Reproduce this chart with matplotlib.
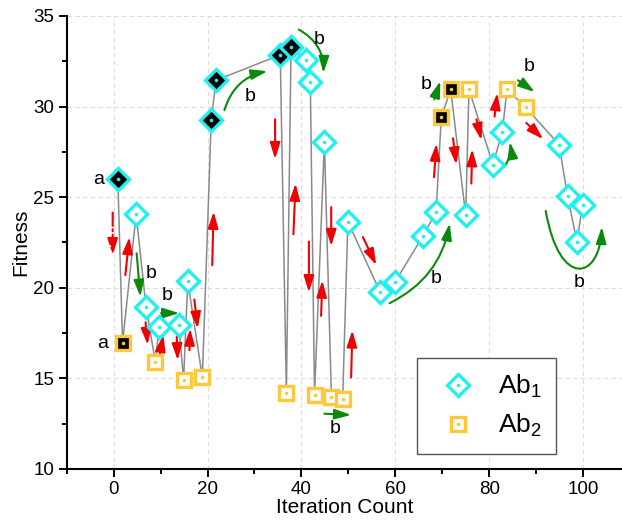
import numpy as np
import matplotlib
matplotlib.use("Agg")
import matplotlib.pyplot as plt
from matplotlib.patches import FancyArrowPatch
from matplotlib.lines import Line2D
from matplotlib.path import Path
from matplotlib.ticker import MultipleLocator

plt.rcParams['font.family'] = ['Liberation Sans', 'DejaVu Sans']
plt.rcParams['mathtext.fontset'] = 'custom'
plt.rcParams['mathtext.rm'] = 'Liberation Sans'
plt.rcParams['mathtext.it'] = 'Liberation Sans:italic'

# ---- data ----------------------------------------------------------------
ab1_iter = [0.9, 4.8, 6.9, 9.7, 13.9, 15.8, 20.8, 21.8, 35.5, 37.8, 40.9, 41.9,
            44.9, 49.9, 56.8, 59.9, 65.9, 68.7, 75.0, 80.8, 82.8, 94.9, 96.7,
            98.7, 99.9]
ab1_fit = [26.0, 24.05, 18.95, 17.85, 17.95, 20.35, 29.25, 31.45, 32.85, 33.3,
           32.55, 31.35, 28.05, 23.65, 19.75, 20.3, 22.85, 24.2, 24.0, 26.8,
           28.6, 27.9, 25.05, 22.55, 24.55]
ab1_elite = [1, 0, 0, 0, 0, 0, 1, 1, 1, 1, 0, 0, 0, 0, 0, 0, 0, 0, 0, 0, 0, 0,
             0, 0, 0]

ab2_iter = [1.9, 8.9, 14.9, 18.9, 36.8, 42.8, 46.4, 48.8, 69.8, 71.8, 75.7,
            83.8, 87.8]
ab2_fit = [16.95, 15.9, 14.9, 15.05, 14.2, 14.1, 13.95, 13.85, 29.4, 30.95,
           30.95, 30.95, 29.95]
ab2_elite = [1, 0, 0, 0, 0, 0, 0, 0, 1, 1, 0, 0, 0]

legend_labels = ['Ab$_1$', 'Ab$_2$']

# annotation arrows: (start, end)
red_arrows = [
    ((2.5, 20.7), (3.35, 22.8)), ((6.8, 18.1), (7.25, 16.85)),
    ((9.75, 16.2), (10.6, 17.4)), ((13.45, 17.3), (13.65, 16.0)),
    ((16.15, 16.55), (16.3, 17.75)), ((17.2, 19.35), (17.9, 17.75)),
    ((21.0, 21.25), (21.3, 24.2)), ((34.4, 29.3), (34.4, 27.1)),
    ((38.3, 22.95), (38.75, 25.75)), ((41.6, 22.55), (41.6, 19.75)),
    ((44.2, 18.45), (44.45, 20.4)), ((46.35, 24.45), (46.35, 22.3)),
    ((53.1, 22.8), (55.95, 21.25)), ((50.6, 15.05), (50.85, 17.65)),
    ((68.25, 26.1), (68.75, 27.95)), ((72.3, 28.25), (73.0, 26.8)),
    ((76.2, 25.75), (76.4, 27.65)), ((77.3, 29.3), (78.35, 28.15)),
    ((81.15, 29.45), (81.75, 30.75)), ((87.9, 29.1), (91.5, 28.2)),
]
red_dashdot_arrow = ((-0.2, 24.15), (-0.2, 21.8))

# green arrows: (start, end, curvature)
green_arrows = [
    ((4.9, 21.9), (5.7, 19.5), 0.0), ((10.1, 18.6), (14.0, 18.6), 0.0),
    ((23.6, 29.8), (32.8, 31.95), -0.3), ((39.45, 34.25), (44.7, 31.85), -0.3),
    ((44.9, 13.05), (50.6, 12.98), 0.0), ((58.8, 19.15), (71.6, 23.55), 0.25),
    ((68.3, 30.4), (69.6, 31.4), 0.0), ((83.3, 26.7), (84.4, 28.05), 0.2),
    ((86.15, 31.45), (89.7, 30.8), 0.0),
]
green_u_turn = [(92.05, 24.24), (95.0, 19.9), (103.55, 20.45), (104.0, 23.36)]

text_a = [(-3.3, 26.0), (-2.4, 16.95)]
text_b = [(8.0, 20.8), (11.5, 19.6), (29.1, 30.55), (43.7, 33.7), (47.1, 12.25),
          (68.7, 20.5), (66.6, 31.2), (88.6, 32.2), (99.15, 20.3)]

# ---- figure ----------------------------------------------------------------
CYAN = '#1FF0F0'
GOLD = '#FFC83A'
RED = '#F00000'
GREEN = '#0A8A0A'

fig = plt.figure(figsize=(6.22, 5.23), dpi=100)
ax = fig.add_axes([0.1072, 0.1033, 0.8928, 0.8662])

# trajectory through all evaluated antibodies in iteration order
it_all = np.concatenate([ab1_iter, ab2_iter])
fit_all = np.concatenate([ab1_fit, ab2_fit])
order = np.argsort(it_all)
ax.plot(it_all[order], fit_all[order], color='#8a8a8a', lw=1.1, zorder=2)


def draw_series(x, y, elite, marker, ms, color):
    x = np.asarray(x)
    y = np.asarray(y)
    e = np.asarray(elite, bool)
    ax.plot(x[~e], y[~e], ls='none', marker=marker, ms=ms, mfc='white',
            mec=color, mew=2.4, zorder=5)
    ax.plot(x[e], y[e], ls='none', marker=marker, ms=ms, mfc='black',
            mec=color, mew=2.4, zorder=5)
    ax.plot(x, y, ls='none', marker='o', ms=2.6, mfc=color, mec='none',
            zorder=6)


draw_series(ab1_iter, ab1_fit, ab1_elite, 'D', 11.5, CYAN)
draw_series(ab2_iter, ab2_fit, ab2_elite, 's', 10.5, GOLD)

ARROW = '-|>,head_length=0.9,head_width=0.28'


def add_arrow(p0, p1, color, rad=0.0, ls='-'):
    ax.add_patch(FancyArrowPatch(p0, p1, arrowstyle=ARROW, mutation_scale=11,
                                 color=color, lw=1.5, linestyle=ls,
                                 connectionstyle=f'arc3,rad={rad}',
                                 shrinkA=0, shrinkB=0, zorder=4))


for p0, p1 in red_arrows:
    add_arrow(p0, p1, RED)
add_arrow(*red_dashdot_arrow, RED, ls='-.')
for p0, p1, rad in green_arrows:
    add_arrow(p0, p1, GREEN, rad)

u_path = Path(green_u_turn, [Path.MOVETO, Path.CURVE4, Path.CURVE4, Path.CURVE4])
ax.add_patch(FancyArrowPatch(path=u_path, arrowstyle=ARROW, mutation_scale=11,
                             color=GREEN, lw=1.5, zorder=4))

for x, y in text_a:
    ax.text(x, y, 'a', fontsize=14, ha='center', va='center', zorder=7)
for x, y in text_b:
    ax.text(x, y, 'b', fontsize=14, ha='center', va='center', zorder=7)

# ---- axes styling ----------------------------------------------------------
ax.set_xlim(-10, 108.3)
ax.set_ylim(10, 35)
ax.xaxis.set_major_locator(MultipleLocator(20))
ax.xaxis.set_minor_locator(MultipleLocator(10))
ax.yaxis.set_major_locator(MultipleLocator(5))
ax.yaxis.set_minor_locator(MultipleLocator(2.5))
ax.tick_params(which='major', direction='out', length=6, width=1.4,
               labelsize=13.5, pad=3)
ax.tick_params(which='minor', direction='out', length=3.5, width=1.4)
for side in ('top', 'right'):
    ax.spines[side].set_visible(False)
for side in ('left', 'bottom'):
    ax.spines[side].set_linewidth(1.5)
ax.grid(True, which='major', linestyle=(0, (4, 3)), color='#dcdcdc', lw=0.8,
        zorder=0)
ax.set_axisbelow(True)
ax.set_xlabel('Iteration Count', fontsize=15, labelpad=0)
ax.set_ylabel('Fitness', fontsize=15, labelpad=2)

h1 = (Line2D([], [], ls='none', marker='D', ms=11.5, mfc='white', mec=CYAN, mew=2.4),
      Line2D([], [], ls='none', marker='o', ms=2.6, mfc=CYAN, mec='none'))
h2 = (Line2D([], [], ls='none', marker='s', ms=10.5, mfc='white', mec=GOLD, mew=2.4),
      Line2D([], [], ls='none', marker='o', ms=2.6, mfc=GOLD, mec='none'))
leg = ax.legend([h1, h2], legend_labels, loc='upper left',
                bbox_to_anchor=(0.631, 0.2444), borderaxespad=0, fontsize=19,
                frameon=True, fancybox=False, edgecolor='#555555',
                framealpha=1, handlelength=2.0, handletextpad=0.5,
                borderpad=0.55, labelspacing=0.45)
leg.get_frame().set_linewidth(1.0)
leg.set_zorder(8)

fig.savefig('out.png', dpi=100)
